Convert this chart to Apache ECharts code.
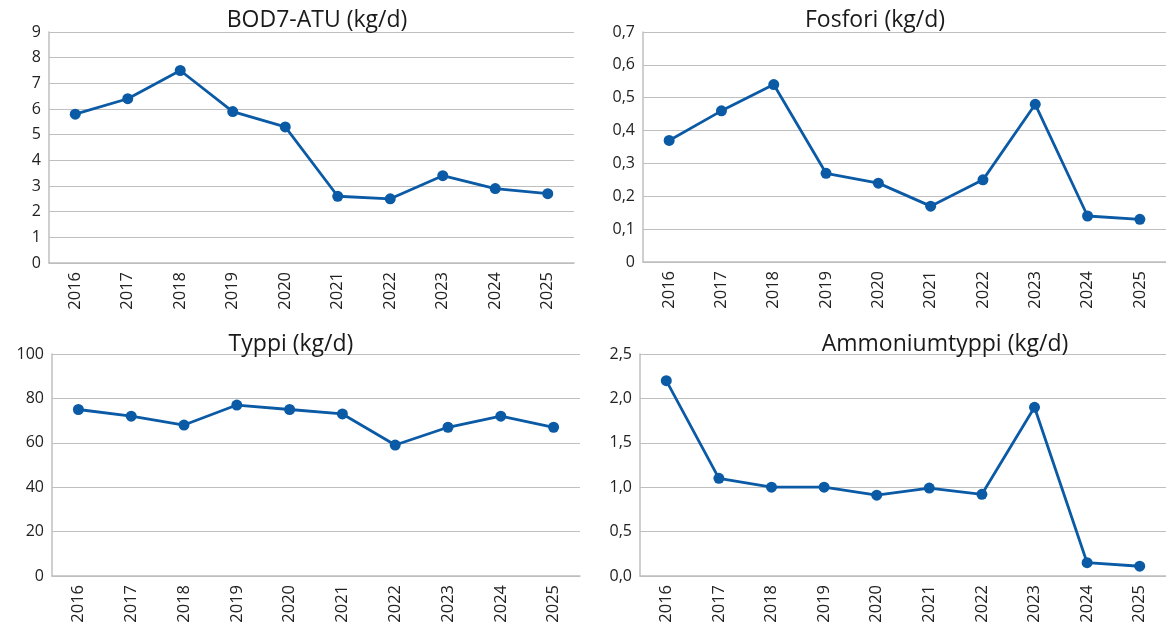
<!DOCTYPE html>
<html>
<head>
<meta charset="utf-8">
<script src="https://cdn.jsdelivr.net/npm/echarts@6/dist/echarts.min.js"></script>
<style>
html,body{margin:0;padding:0;background:#fff;}
#chart{width:1166px;height:630px;}
</style>
</head>
<body>
<div id="chart"></div>
<script>
const years = ['2016','2017','2018','2019','2020','2021','2022','2023','2024','2025'];
const bodValues = [5.8, 6.4, 7.5, 5.9, 5.3, 2.6, 2.5, 3.4, 2.9, 2.7];
const fosforiValues = [0.37, 0.46, 0.54, 0.27, 0.24, 0.17, 0.25, 0.48, 0.14, 0.13];
const typpiValues = [75, 72, 68, 77, 75, 73, 59, 67, 72, 67];
const ammoniumValues = [2.2, 1.1, 1.0, 1.0, 0.91, 0.99, 0.92, 1.9, 0.15, 0.11];
const titles = ['BOD7-ATU (kg/d)', 'Fosfori (kg/d)', 'Typpi (kg/d)', 'Ammoniumtyppi (kg/d)'];

const FONT = 'Open Sans';
const BLUE = '#0A5AA5';
const GRIDC = '#BFBFBF';

const grids = [
  {left: 49, top: 32, width: 525, height: 231},
  {left: 643, top: 32, width: 523, height: 230},
  {left: 52, top: 354, width: 528, height: 222},
  {left: 640, top: 354, width: 526, height: 222}
];
const yCfg = [
  {min: 0, max: 9, interval: 1, fmt: v => String(v)},
  {min: 0, max: 0.7, interval: 0.1, fmt: v => v === 0 ? '0' : v.toFixed(1).replace('.', ',')},
  {min: 0, max: 100, interval: 20, fmt: v => String(v)},
  {min: 0, max: 2.5, interval: 0.5, fmt: v => v.toFixed(1).replace('.', ',')}
];
const seriesData = [bodValues, fosforiValues, typpiValues, ammoniumValues];
const titlePos = [
  {left: 312, top: 4},
  {left: 870, top: 4},
  {left: 286, top: 328},
  {left: 940, top: 328}
];

const option = {
  animation: false,
  backgroundColor: '#fff',
  title: titles.map((t, i) => ({
    text: t, left: titlePos[i].left, top: titlePos[i].top, textAlign: 'center',
    textStyle: {fontFamily: FONT, fontSize: 23, fontWeight: 'normal', color: '#1a1a1a'}
  })),
  grid: grids.map(g => Object.assign({containLabel: false}, g)),
  xAxis: grids.map((g, i) => ({
    type: 'category', gridIndex: i, data: years, boundaryGap: true,
    axisLine: {show: true, lineStyle: {color: GRIDC, width: 1.5}},
    axisTick: {show: false},
    axisLabel: {rotate: 90, margin: 9, fontFamily: FONT, fontSize: 16.5, color: '#222'},
    splitLine: {show: false}
  })),
  yAxis: yCfg.map((c, i) => ({
    type: 'value', gridIndex: i, min: c.min, max: c.max, interval: c.interval,
    axisLine: {show: true, lineStyle: {color: GRIDC, width: 1.5}},
    axisTick: {show: false},
    axisLabel: {margin: 8, fontFamily: FONT, fontSize: 16, color: '#222', formatter: c.fmt},
    splitLine: {show: true, lineStyle: {color: GRIDC, width: 1.2}}
  })),
  series: seriesData.map((d, i) => ({
    type: 'line', xAxisIndex: i, yAxisIndex: i, data: d,
    symbol: 'circle', symbolSize: 11,
    lineStyle: {color: BLUE, width: 2.8},
    itemStyle: {color: BLUE},
    z: 3
  }))
};

const chart = echarts.init(document.getElementById('chart'), null, {renderer: 'canvas'});
chart.setOption(option);
</script>
</body>
</html>
